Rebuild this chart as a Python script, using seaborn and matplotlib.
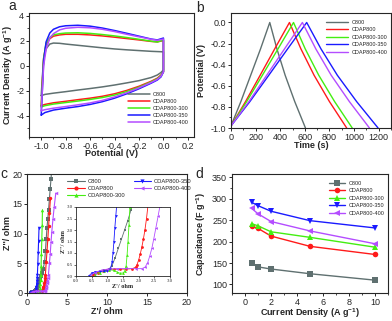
import numpy as np
import pandas as pd
import matplotlib
matplotlib.use('Agg')
import matplotlib.pyplot as plt
import seaborn as sns
from matplotlib.ticker import MultipleLocator

samples = ['C800', 'CDAP800', 'CDAP800-300', 'CDAP800-350', 'CDAP800-400']
colors = ['#5f7070', '#ff1a1a', '#44ee11', '#1a1aff', '#b44dff']
markers = ['s', 'o', '^', 'v', '<']

# ---- a : CV curves (upper branch then lower branch)
cv_v_up = [-1.0, -0.99, -0.98, -0.96, -0.93, -0.9, -0.85, -0.8, -0.7, -0.6, -0.5, -0.4, -0.3, -0.2, -0.1, -0.05, 0.0]
cv_j_up = {
    'C800':        [-2.4, -0.8, 0.5, 1.35, 1.72, 1.8, 1.78, 1.72, 1.62, 1.52, 1.42, 1.33, 1.26, 1.2, 1.14, 1.12, 1.1],
    'CDAP800':     [-3.2, -1.2, 0.6, 1.7, 2.15, 2.35, 2.45, 2.5, 2.5, 2.45, 2.37, 2.27, 2.16, 2.05, 1.93, 1.9, 2.0],
    'CDAP800-300': [-3.3, -1.3, 0.6, 1.8, 2.25, 2.45, 2.55, 2.6, 2.62, 2.57, 2.48, 2.37, 2.24, 2.1, 1.95, 1.88, 2.05],
    'CDAP800-350': [-3.95, -1.8, 0.4, 1.9, 2.6, 2.9, 3.1, 3.18, 3.22, 3.15, 3.0, 2.8, 2.58, 2.35, 2.12, 2.05, 2.2],
    'CDAP800-400': [-3.6, -1.8, 0.0, 1.3, 2.2, 2.55, 2.85, 2.98, 3.06, 3.02, 2.9, 2.72, 2.5, 2.3, 2.1, 2.02, 2.12],
}
cv_v_dn = [0.0, -0.02, -0.05, -0.1, -0.2, -0.3, -0.4, -0.5, -0.6, -0.7, -0.8, -0.9, -0.97, -1.0]
cv_j_dn = {
    'C800':        [-0.35, -0.55, -0.75, -0.95, -1.2, -1.38, -1.55, -1.7, -1.83, -1.95, -2.08, -2.2, -2.3, -2.4],
    'CDAP800':     [-0.5, -0.75, -1.0, -1.25, -1.65, -1.98, -2.25, -2.45, -2.6, -2.72, -2.85, -2.97, -3.1, -3.2],
    'CDAP800-300': [-0.5, -0.8, -1.05, -1.3, -1.72, -2.07, -2.35, -2.55, -2.7, -2.83, -2.95, -3.07, -3.2, -3.3],
    'CDAP800-350': [-0.5, -0.9, -1.15, -1.4, -1.85, -2.25, -2.6, -2.88, -3.1, -3.27, -3.4, -3.55, -3.75, -3.95],
    'CDAP800-400': [-0.5, -0.85, -1.1, -1.35, -1.78, -2.17, -2.5, -2.78, -2.98, -3.13, -3.27, -3.4, -3.52, -3.6],
}

# ---- b : GCD curves
gcd_v_ch = [-0.98, -0.75, -0.5, -0.25, 0.0]
gcd_t_ch = {
    'C800':        [0, 80, 160, 240, 315],
    'CDAP800':     [0, 118, 237, 355, 475],
    'CDAP800-300': [0, 127, 255, 382, 508],
    'CDAP800-350': [0, 153, 307, 460, 615],
    'CDAP800-400': [0, 145, 290, 435, 580],
}
gcd_v_dis = [0.0, -0.25, -0.5, -0.75, -1.0]
gcd_t_dis = {
    'C800':        [315, 373, 440, 518, 605],
    'CDAP800':     [475, 568, 675, 800, 940],
    'CDAP800-300': [508, 603, 713, 842, 985],
    'CDAP800-350': [615, 731, 864, 1021, 1195],
    'CDAP800-400': [580, 689, 814, 962, 1125],
}

# ---- c : Nyquist plots
eis_zre = {
    'C800':        [0.45, 0.6, 0.75, 0.9, 1.05, 1.15, 1.25, 1.35, 1.45, 1.55, 1.65, 1.75, 1.85, 2.0, 2.2, 2.3, 2.4, 2.5, 2.6, 2.7, 2.8, 2.9, 3.0, 3.1],
    'CDAP800':     [0.55, 0.7, 0.85, 1.0, 1.2, 1.4, 1.6, 1.8, 1.9, 1.95, 2.0, 2.05, 2.1, 2.15, 2.2, 2.25, 2.3, 2.4, 2.5, 2.6, 2.7, 2.8, 2.93],
    'CDAP800-300': [0.6, 0.75, 0.9, 1.05, 1.2, 1.3, 1.4, 1.5, 1.55, 1.6, 1.63, 1.66, 1.69, 1.72, 1.76, 1.8, 1.85, 1.9, 1.93],
    'CDAP800-350': [0.42, 0.5, 0.6, 0.75, 0.9, 1.0, 1.1, 1.15, 1.18, 1.21, 1.24, 1.27, 1.3, 1.35, 1.4, 1.45, 1.5],
    'CDAP800-400': [0.45, 0.6, 0.8, 1.0, 1.3, 1.6, 1.9, 2.1, 2.2, 2.28, 2.35, 2.42, 2.48, 2.55, 2.62, 2.68, 2.8, 2.9, 3.0, 3.1, 3.25, 3.4, 3.6],
}
eis_zim = {
    'C800':        [0.02, 0.1, 0.18, 0.25, 0.3, 0.45, 0.8, 1.2, 1.6, 2.0, 2.4, 2.85, 3.3, 4.0, 5.2, 7.0, 9.0, 11.0, 12.5, 14.0, 15.8, 17.5, 19.2, 21.0],
    'CDAP800':     [0.05, 0.15, 0.22, 0.28, 0.3, 0.3, 0.3, 0.32, 0.38, 0.5, 0.7, 0.95, 1.25, 1.6, 2.0, 2.5, 3.1, 5.2, 7.0, 9.0, 11.2, 13.4, 15.9],
    'CDAP800-300': [0.05, 0.15, 0.22, 0.27, 0.25, 0.18, 0.12, 0.13, 0.2, 0.45, 0.9, 1.5, 2.2, 3.0, 4.5, 6.5, 9.0, 11.5, 13.9],
    'CDAP800-350': [0.02, 0.12, 0.17, 0.2, 0.2, 0.22, 0.3, 0.6, 1.0, 1.5, 2.1, 2.6, 3.1, 4.8, 6.8, 8.8, 10.9],
    'CDAP800-400': [0.02, 0.15, 0.25, 0.3, 0.32, 0.33, 0.32, 0.32, 0.38, 0.55, 0.85, 1.2, 1.6, 2.1, 2.6, 3.05, 5.0, 6.5, 8.5, 10.3, 12.5, 14.5, 16.8],
}

# ---- d : rate capability
current_density = [0.5, 1, 2, 5, 10]
capacitance = {
    'C800':        [150, 141, 136, 125, 110],
    'CDAP800':     [236, 231, 213, 189, 170],
    'CDAP800-300': [242, 237, 223, 210, 187],
    'CDAP800-350': [292, 284, 271, 249, 232],
    'CDAP800-400': [278, 265, 247, 225, 195],
}

sns.set_style('ticks')
plt.rcParams['font.family'] = ['Liberation Sans', 'DejaVu Sans']
plt.rcParams['axes.unicode_minus'] = False
plt.rcParams['mathtext.fontset'] = 'custom'
plt.rcParams['mathtext.rm'] = 'Liberation Sans'
plt.rcParams['mathtext.bf'] = 'Liberation Sans:bold'
plt.rcParams['mathtext.it'] = 'Liberation Sans:italic'
plt.rcParams['axes.linewidth'] = 0.8
plt.rcParams['xtick.major.width'] = 0.7
plt.rcParams['ytick.major.width'] = 0.7
plt.rcParams['xtick.minor.width'] = 0.6
plt.rcParams['ytick.minor.width'] = 0.6
plt.rcParams['xtick.major.size'] = 2.5
plt.rcParams['ytick.major.size'] = 2.5
plt.rcParams['xtick.minor.size'] = 1.5
plt.rcParams['ytick.minor.size'] = 1.5
plt.rcParams['xtick.labelsize'] = 6.5
plt.rcParams['ytick.labelsize'] = 6.5

W, H = 392, 321
fig = plt.figure(figsize=(W / 100, H / 100), dpi=100)


def px_axes(l, t, r, b):
    return fig.add_axes([l / W, 1 - b / H, (r - l) / W, (b - t) / H])


def put_labels(ax, xl, yl, x_px, y_px):
    # label centres given in figure pixels
    ax.set_xlabel(xl, fontsize=6.5, fontweight='bold')
    ax.set_ylabel(yl, fontsize=6.5, fontweight='bold')
    bb = ax.get_position()
    ax.xaxis.set_label_coords(0.5, ((1 - y_px / H) - bb.y0) / bb.height)
    ax.yaxis.set_label_coords(((x_px / W) - bb.x0) / bb.width, 0.5)
    ax.xaxis.label.set_va('center')
    ax.yaxis.label.set_va('center')


sup = r'$^{\mathbf{-1}}$'

# ---------------- a
ax = px_axes(29, 13, 194, 137)
for s, c in zip(samples, colors):
    d = pd.DataFrame({'V': cv_v_up + cv_v_dn, 'j': cv_j_up[s] + cv_j_dn[s]})
    sns.lineplot(data=d, x='V', y='j', sort=False, estimator=None, color=c, lw=1.1, label=s, ax=ax)
ax.set_xlim(-1.1, 0.25)
ax.set_ylim(-5.7, 4.2)
ax.set_xticks(np.arange(-1.0, 0.21, 0.2))
ax.set_xticklabels(['-1.0', '-0.8', '-0.6', '-0.4', '-0.2', '0.0', '0.2'])
ax.set_yticks([-4, -2, 0, 2, 4])
ax.xaxis.set_minor_locator(MultipleLocator(0.1))
ax.yaxis.set_minor_locator(MultipleLocator(1))
ax.tick_params(pad=1)
put_labels(ax, 'Potential (V)', 'Current Density (A g' + sup + ')', 8.5, 154)
ax.legend(loc='lower right', bbox_to_anchor=(0.99, 0.07), fontsize=4, frameon=False,
          handlelength=4, labelspacing=0.35, handletextpad=0.6, borderaxespad=0.2)

# ---------------- b
ax = px_axes(231, 13, 391, 128)
for s, c in zip(samples, colors):
    d = pd.DataFrame({'t': gcd_t_ch[s] + gcd_t_dis[s], 'V': gcd_v_ch + gcd_v_dis})
    sns.lineplot(data=d, x='t', y='V', sort=False, estimator=None, color=c, lw=1.0, label=s, ax=ax)
ax.set_xlim(0, 1300)
ax.set_ylim(-1.0, 0.09)
ax.set_xticks(range(0, 1201, 200))
ax.set_yticks(np.arange(-1.0, 0.01, 0.2))
ax.set_yticklabels(['-1.0', '-0.8', '-0.6', '-0.4', '-0.2', '0.0'])
ax.xaxis.set_minor_locator(MultipleLocator(100))
ax.yaxis.set_minor_locator(MultipleLocator(0.1))
ax.tick_params(pad=1)
put_labels(ax, 'Time (s)', 'Potential (V)', 202, 146)
ax.legend(loc='upper right', bbox_to_anchor=(1.0, 0.97), fontsize=4, frameon=False,
          handlelength=4, labelspacing=0.45, handletextpad=0.6, borderaxespad=0.2)

# ---------------- c
ax = px_axes(27, 174, 187, 293)
for s, c, m in zip(samples, colors, markers):
    d = pd.DataFrame({'zre': eis_zre[s], 'zim': eis_zim[s]})
    sns.lineplot(data=d, x='zre', y='zim', sort=False, estimator=None, color=c, lw=0.8,
                 marker=m, markersize=2.5, markeredgewidth=0, label=s, ax=ax)
ax.set_xlim(0, 20)
ax.set_ylim(0, 20)
ax.set_xticks([0, 5, 10, 15, 20])
ax.set_yticks([0, 5, 10, 15, 20])
ax.tick_params(pad=1)
put_labels(ax, "Z'/ ohm", "Z''/ ohm", 7, 312)
ax.legend(loc='upper left', bbox_to_anchor=(0.23, 0.99), ncol=2, fontsize=4.2, frameon=False,
          handlelength=3, labelspacing=0.35, handletextpad=0.5, columnspacing=1.4, borderaxespad=0.2,
          markerscale=1.2)

ins = px_axes(76, 207, 170, 276)
for s, c, m in zip(samples, colors, markers):
    d = pd.DataFrame({'zre': eis_zre[s], 'zim': eis_zim[s]})
    sns.lineplot(data=d, x='zre', y='zim', sort=False, estimator=None, color=c, lw=0.6,
                 marker=m, markersize=2, markeredgewidth=0, legend=False, ax=ins)
ins.set_xlim(0, 3)
ins.set_ylim(0, 3)
ins.set_xticks(np.arange(0, 3.01, 0.5))
ins.set_yticks(np.arange(0, 3.01, 0.5))
ins.set_xticklabels(['0.0', '0.5', '1.0', '1.5', '2.0', '2.5', '3.0'])
ins.set_yticklabels(['0.0', '0.5', '1.0', '1.5', '2.0', '2.5', '3.0'])
ins.tick_params(labelsize=3.5, length=1.2, width=0.5, pad=1)
for sp in ins.spines.values():
    sp.set_linewidth(0.6)
ins.set_xlabel("Z'/ ohm", fontsize=4.5, fontweight='bold', family='Liberation Serif', labelpad=0.5)
ins.set_ylabel("Z''/ ohm", fontsize=4.5, fontweight='bold', family='Liberation Serif', labelpad=0.5)
for t in ins.get_xticklabels() + ins.get_yticklabels():
    t.set_family('Liberation Serif')

# ---------------- d
ax = px_axes(232, 174, 388, 293)
for s, c, m in zip(samples, colors, markers):
    sns.lineplot(x=current_density, y=capacitance[s], color=c, lw=1.0, marker=m,
                 markersize=4, markeredgewidth=0, label=s, ax=ax)
ax.set_xlim(-1, 11)
ax.set_ylim(80, 358)
ax.set_xticks([0, 2, 4, 6, 8, 10])
ax.set_yticks([100, 150, 200, 250, 300, 350])
ax.xaxis.set_minor_locator(MultipleLocator(1))
ax.yaxis.set_minor_locator(MultipleLocator(25))
ax.tick_params(pad=1)
put_labels(ax, 'Current Density (A g' + sup + ')', 'Capacitance (F g' + sup + ')', 201, 313)
ax.legend(loc='upper right', bbox_to_anchor=(1.0, 0.97), fontsize=4, frameon=False,
          handlelength=3, labelspacing=0.45, handletextpad=0.6, borderaxespad=0.2)

# panel letters
for lbl, x, y in [('a', 12, 6), ('b', 200, 8), ('c', 4, 174), ('d', 199, 174)]:
    fig.text(x / W, 1 - y / H, lbl, fontsize=10, ha='center', va='center')

fig.savefig('out.png', dpi=100)
